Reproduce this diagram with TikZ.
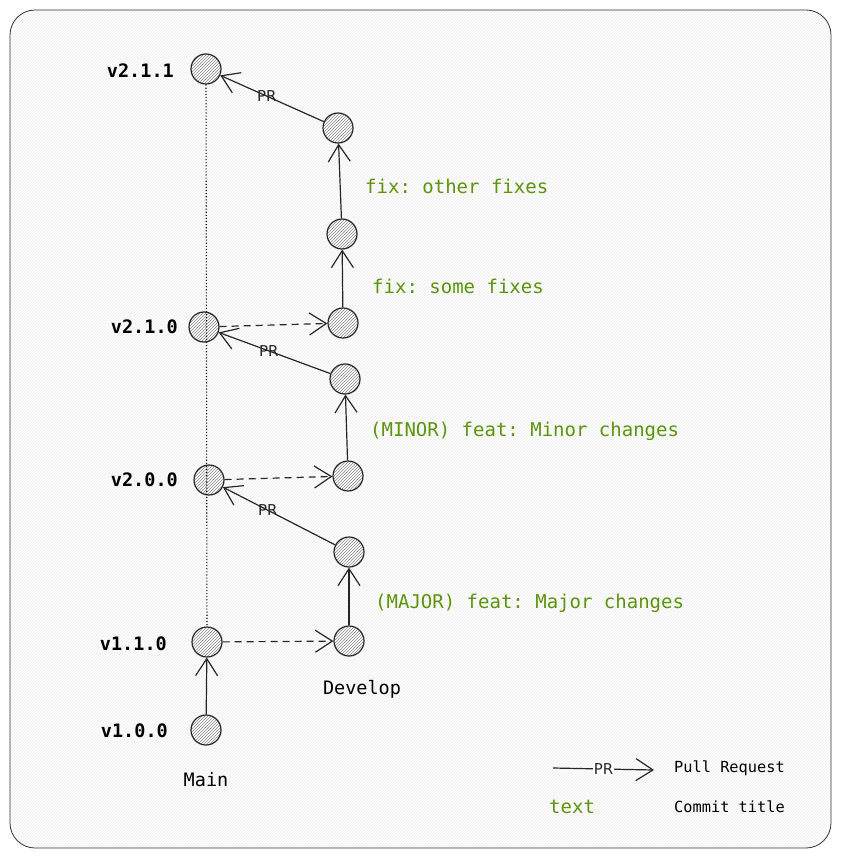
\documentclass[tikz,border=0pt]{standalone}
\usepackage{fontspec}
\setmonofont{DejaVu Sans Mono}
\setsansfont{DejaVu Sans}
\usetikzlibrary{arrows.meta,patterns}
\definecolor{grn}{HTML}{5C940D}
\tikzset{
 x=1pt,y=-1pt,
 commit/.style={circle,minimum size=30pt,inner sep=0pt,draw=black!85,line width=1.2pt,pattern=north east lines,pattern color=black!45},
 ver/.style={font=\ttfamily\fontsize{18.5}{20}\selectfont\bfseries,inner sep=0pt},
 msg/.style={font=\ttfamily\fontsize{19}{21}\selectfont,text=grn,anchor=west,inner sep=0pt},
 lbl/.style={font=\ttfamily\fontsize{18.5}{20}\selectfont,inner sep=0pt},
 arr/.style={-{Straight Barb[length=17pt,width=22pt]},line width=1.2pt,black!85},
 dsh/.style={arr,dash pattern=on 7pt off 5pt},
 prl/.style={font=\sffamily\fontsize{15}{17}\selectfont,fill=white,fill opacity=0,text opacity=1,inner sep=1pt},
}
\begin{document}
\begin{tikzpicture}
\useasboundingbox (0,0) rectangle (841,858);
\draw[rounded corners=25pt,line width=0.8pt,black!80,pattern=north east lines,pattern color=black!8] (10,10) rectangle (831,848);
\node[commit] (m4) at (206,69) {};
\node[commit] (m3) at (204,327) {};
\node[commit] (m2) at (209,480) {};
\node[commit] (m1) at (207,642) {};
\node[commit] (m0) at (206,730) {};
\node[commit] (c1) at (349,641) {};
\node[commit] (c2) at (349,552) {};
\node[commit] (c3) at (348,476) {};
\node[commit] (c4) at (345,379) {};
\node[commit] (c5) at (343,323) {};
\node[commit] (c6) at (342,234) {};
\node[commit] (c7) at (338,128) {};
\node[ver,anchor=east] (l4) at (174,71) {v2.1.1};
\node[ver,anchor=east] (l3) at (178,327) {v2.1.0};
\node[ver,anchor=east] (l2) at (178,480) {v2.0.0};
\node[ver,anchor=east] (l1) at (167,644) {v1.1.0};
\node[ver,anchor=east] (l0) at (168,731) {v1.0.0};
\node[lbl] (mainl) at (206,780) {Main};
\node[lbl] (devl) at (362,689) {Develop};
\draw[dotted,line width=1.1pt] (m4) -- (m1);
\draw[arr] (m0) -- (m1);
\draw[dsh] (m1) -- (c1);
\draw[arr] (c1) -- (c2);
\draw[arr] (c2) -- node[prl,pos=0.6]{PR} (m2);
\draw[dsh] (m2) -- (c3);
\draw[arr] (c3) -- (c4);
\draw[arr] (c4) -- node[prl,pos=0.55]{PR} (m3);
\draw[dsh] (m3) -- (c5);
\draw[arr] (c5) -- (c6);
\draw[arr] (c6) -- (c7);
\draw[arr] (c7) -- node[prl,pos=0.55]{PR} (m4);
\node[msg] (t1) at (365,186) {fix: other fixes};
\node[msg] (t2) at (372,286) {fix: some fixes};
\node[msg] (t3) at (370,431) {(MINOR) feat: Minor changes};
\node[msg] (t4) at (375,603) {(MAJOR) feat: Major changes};
\coordinate (la) at (553,768);
\coordinate (lb) at (654,770);
\draw[arr] (la) -- node[prl,fill opacity=1,fill=white]{PR} (lb);
\node[font=\ttfamily\fontsize{15.3}{17}\selectfont,anchor=west,inner sep=0pt] (pr) at (674,768) {Pull Request};
\node[msg] (tx) at (549,807) {text};
\node[font=\ttfamily\fontsize{15.3}{17}\selectfont,anchor=west,inner sep=0pt] (ct) at (674,807) {Commit title};
\end{tikzpicture}
\end{document}
